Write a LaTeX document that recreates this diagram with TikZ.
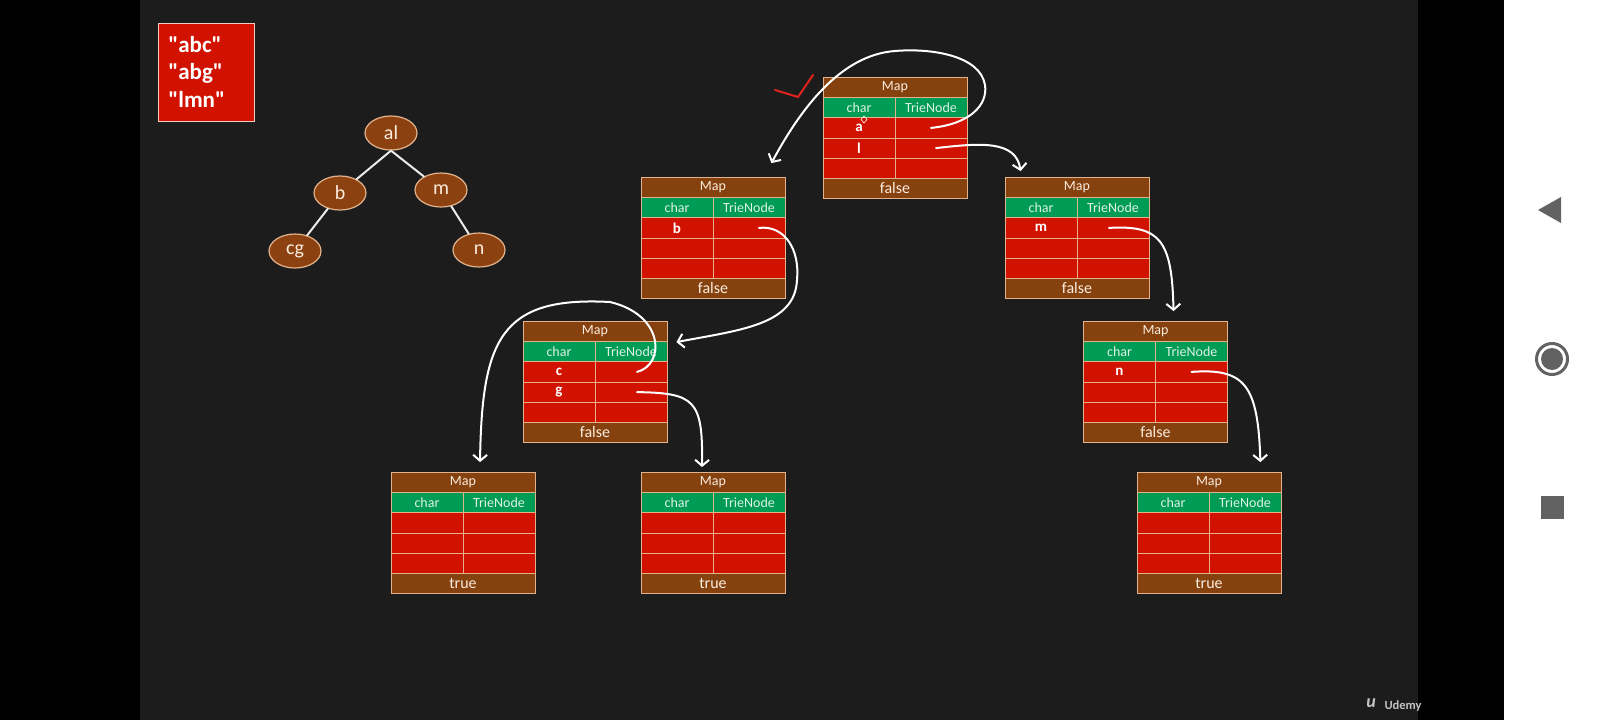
\documentclass[tikz,border=0pt]{standalone}
\usepackage{fontspec}
\setmainfont{Carlito}[Ligatures=TeXOff]
\usetikzlibrary{arrows.meta, shapes.geometric}

\definecolor{slide}{RGB}{28,28,28}
\definecolor{mapbrown}{RGB}{133,65,14}
\definecolor{knotbrown}{RGB}{140,66,16}
\definecolor{keygreen}{RGB}{0,155,85}
\definecolor{slotred}{RGB}{210,18,0}
\definecolor{rim}{RGB}{226,178,140}
\definecolor{paleink}{RGB}{250,236,222}
\definecolor{keyink}{RGB}{222,242,228}
\definecolor{boxrim}{RGB}{240,205,195}
\definecolor{checkred}{RGB}{222,34,30}
\definecolor{navgray}{RGB}{98,98,98}
\definecolor{udemyink}{RGB}{196,196,196}

% one Map table: name, top-left x, top-left y, row letters, end flag
\newcommand{\triemap}[7]{%
  \begin{scope}[shift={(#2,#3)}]
    \node[maphd]   (#1)      at (72,10.1)  {Map};
    \node[keyhd]   (#1-kh)   at (36,30.3)  {char};
    \node[keyhd]   (#1-vh)   at (108,30.3) {TrieNode};
    \node[slot]    (#1-k1)   at (36,50.4)  {#4};
    \node[slot]    (#1-v1)   at (108,50.4) {};
    \node[slot]    (#1-k2)   at (36,70.6)  {#5};
    \node[slot]    (#1-v2)   at (108,70.6) {};
    \node[slot]    (#1-k3)   at (36,90.8)  {#6};
    \node[slot]    (#1-v3)   at (108,90.8) {};
    \node[flagrow] (#1-flag) at (72,110.9) {#7};
  \end{scope}}

\begin{document}
\begin{tikzpicture}[
  x=1pt, y=-1pt,
  font=\fontsize{14}{16}\selectfont,
  maphd/.style={rectangle, draw=rim, line width=0.8pt, fill=mapbrown, text=paleink,
                minimum width=144pt, minimum height=20.2pt, inner sep=0pt},
  keyhd/.style={rectangle, draw=rim, line width=0.8pt, fill=keygreen, text=keyink,
                minimum width=72pt, minimum height=20.2pt, inner sep=0pt},
  slot/.style={rectangle, draw=rim, line width=0.8pt, fill=slotred, text=white,
               minimum width=72pt, minimum height=20.2pt, inner sep=0pt,
               font=\fontsize{15}{16}\selectfont\bfseries},
  flagrow/.style={maphd, font=\fontsize{16}{18}\selectfont},
  knot/.style={ellipse, draw=rim, line width=1.2pt, fill=knotbrown, text=paleink,
               minimum width=52pt, minimum height=34pt, inner sep=0pt,
               font=\fontsize{20}{22}\selectfont},
  twig/.style={draw=white!92!black, line width=2pt, line cap=round},
  ptr/.style={draw=white, line width=2pt, line cap=round,
              -{Straight Barb[length=6pt, width=14pt]}},
  words/.style={rectangle, draw=boxrim, line width=0.6pt, fill=slotred, text=white,
                minimum width=96pt, minimum height=98pt, text width=75pt,
                inner xsep=10.5pt, inner ysep=0pt, align=left,
                font=\fontsize{23}{27.5}\selectfont\bfseries}
]

% ------------------------------------------------------------ screen
\fill[black] (0,0) rectangle (1600,720);
\fill[slide] (140,0) rectangle (1418,720);
\fill[white] (1504,0) rectangle (1600,720);
\useasboundingbox (0,0) rectangle (1600,720);

% ------------------------------------------------------------ words and tree
\node[words, anchor=north west] (words) at (157.5,22.5) {"abc"\\"abg"\\"lmn"};

\node[knot] (al) at (391,133) {al};
\node[knot] (b)  at (340,193) {b};
\node[knot] (m)  at (441,190) {m};
\node[knot] (cg) at (295,251) {cg};
\node[knot] (n)  at (479,250) {n};
\draw[twig] (al.south) -- (b);
\draw[twig] (al.south) -- (m);
\draw[twig] (b) -- (cg);
\draw[twig] (m) -- (n);

% ------------------------------------------------------------ maps
\triemap{mroot}{823}{77.5}{a}{l}{}{false}
\triemap{ma}{641}{177.5}{b}{}{}{false}
\triemap{ml}{1005}{177.5}{m}{}{}{false}
\triemap{mab}{523}{321.5}{c}{g}{}{false}
\triemap{mlm}{1083.5}{321.5}{n}{}{}{false}
\triemap{mabc}{391}{472.5}{}{}{}{true}
\triemap{mabg}{641}{472.5}{}{}{}{true}
\triemap{mlmn}{1137}{472.5}{}{}{}{true}

% ------------------------------------------------------------ pointers
\draw[ptr] (mroot-v1.center) .. controls (970,124) and (988,105) .. (985,85)
  .. controls (980,55) and (930,48) .. (895,51)
  .. controls (840,55) and (800,110) .. ([xshift=-14pt,yshift=14pt]ma.north east);
\draw[ptr] ([xshift=5pt]mroot-v2.center) .. controls (980,143) and (1016,140)
  .. ([xshift=16pt,yshift=6pt]ml.north west);
\draw[ptr] ([xshift=10pt]ma-v1.center) .. controls (785,225) and (800,250) .. (797,280)
  .. controls (795,325) and (740,330) .. ([xshift=9pt]mab.south east);
\draw[ptr] ([xshift=6pt]mab-v1.center) .. controls (665,365) and (665,315) .. (610,302)
  .. controls (500,296) and (482,340) .. ([xshift=17pt,yshift=10pt]mabc.north);
\draw[ptr] ([xshift=6pt]mab-v2.center) .. controls (695,393) and (703,400)
  .. ([xshift=-11pt,yshift=5pt]mabg.north);
\draw[ptr] ([xshift=-4pt]ml-v1.center) .. controls (1160,225) and (1172,240)
  .. ([xshift=18pt,yshift=10pt]mlm.north);
\draw[ptr] (mlm-v1.center) .. controls (1245,368) and (1258,385)
  .. ([xshift=-21pt,yshift=10pt]mlmn.north east);

% tick and cursor
\draw[checkred, line width=2pt, line cap=round, line join=round]
  (775,90) -- (798,97) -- (813,75);
\draw[white, line width=0.6pt] (864,116) -- (867,119.5) -- (864,123) -- (861,119.5) -- cycle;

% ------------------------------------------------------------ logo and nav bar
\node[font=\fontsize{18}{18}\selectfont\bfseries\itshape, text=udemyink] (ulogo) at (1371,703) {u};
\node[font=\fontsize{12.5}{13}\selectfont\bfseries, text=udemyink, anchor=west] (udemy) at (1381,706) {Udemy};

\fill[navgray] (1538,210) -- (1561,197) -- (1561,223) -- cycle;
\draw[navgray, line width=3pt] (1552,359) circle[radius=15.5];
\fill[navgray] (1552,359) circle[radius=11];
\fill[navgray] (1541,496) rectangle (1564,519);

\end{tikzpicture}
\end{document}
